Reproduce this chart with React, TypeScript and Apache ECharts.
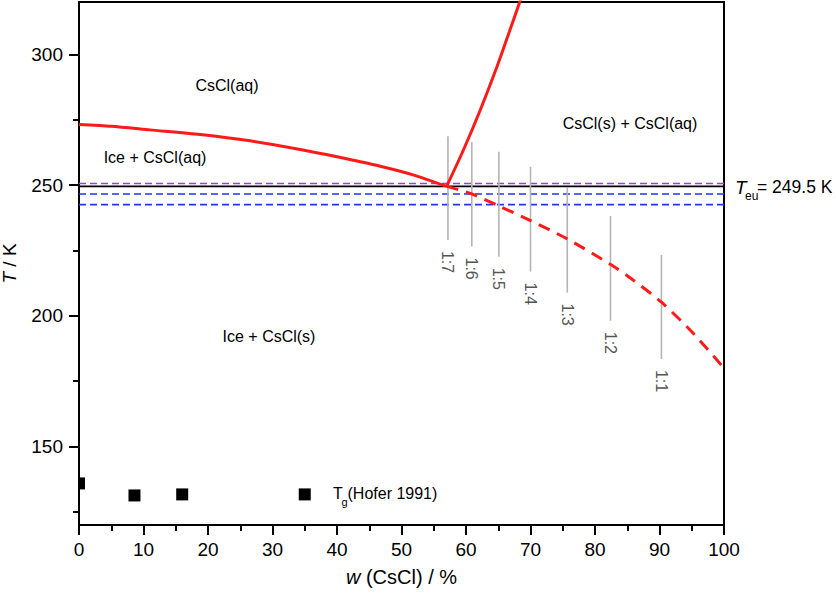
import React, { useEffect, useRef } from "react";
import * as echarts from "echarts";

// Ice liquidus of the CsCl–H2O system (w in %, T in K)
const iceW = [0, 5, 11, 18.8, 26.5, 34.3, 40, 46.7, 51.8, 57.0];
const iceT = [273.2, 272.5, 271.1, 269.3, 266.9, 263.6, 260.8, 257.2, 253.9, 249.5];

// CsCl solubility curve above the eutectic
const solW = [57.0, 59.6, 62.2, 64.8, 66.8, 68.3, 68.7];
const solT = [249.5, 263.4, 278.6, 295.2, 309.2, 319.8, 322.5];

// metastable continuation below the eutectic
const metaW = [57.0, 60.9, 65.1, 70.1, 75.7, 82.5, 85.9, 90.4, 95.0, 100];
const metaT = [249.5, 246.6, 242.0, 236.3, 229.4, 219.5, 213.7, 205.0, 193.9, 180.0];

// eutectic temperature and the reference temperatures around it
const T_EU = 249.5;
const purpleT = 250.6;
const blueT = [246.6, 242.5];

// CsCl : H2O molar ratios
const ratioLabels = ["1:7", "1:6", "1:5", "1:4", "1:3", "1:2", "1:1"];
const ratioW = [57.2, 60.9, 65.1, 70.0, 75.7, 82.4, 90.3];
const ratioTop = [268.7, 266.5, 262.7, 257.0, 249.1, 238.2, 223.3];
const ratioBottom = [229.0, 226.5, 222.6, 216.9, 208.9, 198.1, 183.5];

// glass transition temperatures (Hofer 1991)
const tgW = [0, 8.6, 16.0, 35.0];
const tgT = [135.9, 131.3, 131.7, 131.7];

// y axis ticks
const yMajor = [150, 200, 250, 300];
const yMinor = [125, 175, 225, 275];

const FONT = '"Liberation Sans", Arial, sans-serif';

const pairs = (xs: number[], ys: number[]) => xs.map((x, i) => [x, ys[i]]);
const hline = (t: number) => [[0, t], [100, t]];

function buildOption(): any {
  const red = "#ff1a1a";
  return {
    animation: false,
    grid: {
      left: 79,
      right: 112,
      top: 2,
      bottom: 75,
      outerBoundsMode: "none",
      containLabel: false,
      show: true,
      borderColor: "#000",
      borderWidth: 2,
      backgroundColor: "transparent",
    },
    xAxis: {
      type: "value",
      min: 0,
      max: 100,
      interval: 10,
      axisLine: { show: true, onZero: false, lineStyle: { color: "#000", width: 2 } },
      axisTick: { show: true, inside: false, length: 10, lineStyle: { color: "#000", width: 2 } },
      minorTick: { show: true, splitNumber: 2, length: 6, lineStyle: { color: "#000", width: 2 } },
      splitLine: { show: false },
      minorSplitLine: { show: false },
      axisLabel: { color: "#000", fontSize: 19, fontFamily: FONT, margin: 15 },
      name: "{i|w} (CsCl) / %",
      nameLocation: "middle",
      nameGap: 42,
      nameTextStyle: {
        color: "#000",
        fontSize: 20,
        fontFamily: FONT,
        rich: { i: { fontStyle: "italic", fontSize: 20, fontFamily: FONT, color: "#000" } },
      },
    },
    yAxis: [
      {
        type: "value",
        min: 120,
        max: 320,
        position: "left",
        axisLine: { show: true, onZero: false, lineStyle: { color: "#000", width: 2 } },
        axisTick: { show: true, inside: false, length: 10, customValues: yMajor, lineStyle: { color: "#000", width: 2 } },
        axisLabel: { color: "#000", fontSize: 19, fontFamily: FONT, margin: 16, customValues: yMajor },
        splitLine: { show: false },
        name: "{i|T} / K",
        nameLocation: "middle",
        nameGap: 60,
        nameTextStyle: {
          color: "#000",
          fontSize: 19,
          fontFamily: FONT,
          rich: { i: { fontStyle: "italic", fontSize: 19, fontFamily: FONT, color: "#000" } },
        },
      },
      {
        type: "value",
        min: 120,
        max: 320,
        position: "left",
        axisLine: { show: false },
        axisTick: { show: true, inside: false, length: 6, customValues: yMinor, lineStyle: { color: "#000", width: 2 } },
        axisLabel: { show: false },
        splitLine: { show: false },
      },
    ],
    series: [
      {
        type: "line",
        data: hline(purpleT),
        symbol: "none",
        lineStyle: { color: "#9a3cf0", width: 1.6, type: [7, 4] },
        z: 2,
      },
      ...blueT.map((t) => ({
        type: "line",
        data: hline(t),
        symbol: "none",
        lineStyle: { color: "#2236f0", width: 1.6, type: [7, 4] },
        z: 2,
      })),
      {
        type: "line",
        data: hline(T_EU),
        symbol: "none",
        lineStyle: { color: "#000", width: 1.6 },
        z: 2,
      },
      {
        type: "custom",
        data: ratioW.map((w, i) => [w, ratioTop[i], ratioBottom[i]]),
        encode: { x: 0, y: [1, 2] },
        z: 3,
        renderItem: (params: any, api: any) => {
          const top = api.coord([api.value(0), api.value(1)]);
          const bot = api.coord([api.value(0), api.value(2)]);
          return {
            type: "group",
            children: [
              {
                type: "line",
                shape: { x1: top[0], y1: top[1], x2: bot[0], y2: bot[1] },
                style: { stroke: "#b4b4b4", lineWidth: 1.6 },
              },
              {
                type: "text",
                x: bot[0],
                y: bot[1] + 11,
                rotation: -Math.PI / 2,
                style: {
                  text: ratioLabels[params.dataIndex],
                  fill: "#555",
                  fontSize: 16,
                  fontFamily: FONT,
                  align: "left",
                  verticalAlign: "middle",
                },
              },
            ],
          };
        },
      },
      {
        type: "line",
        data: pairs(iceW, iceT),
        symbol: "none",
        smooth: 0.25,
        lineStyle: { color: red, width: 3 },
        z: 4,
      },
      {
        type: "line",
        data: pairs(solW, solT),
        symbol: "none",
        smooth: 0.25,
        lineStyle: { color: red, width: 3 },
        z: 4,
      },
      {
        type: "line",
        data: pairs(metaW, metaT),
        symbol: "none",
        smooth: 0.25,
        lineStyle: { color: red, width: 3, type: [12, 8] },
        z: 4,
      },
      {
        type: "custom",
        data: pairs(tgW, tgT),
        z: 5,
        renderItem: (params: any, api: any) => {
          const p = api.coord([api.value(0), api.value(1)]);
          const s = 12;
          const cs = params.coordSys;
          const shape = echarts.graphic.clipRectByRect(
            { x: p[0] - s / 2, y: p[1] - s / 2, width: s, height: s },
            { x: cs.x, y: cs.y, width: cs.width, height: cs.height }
          );
          if (!shape) return null;
          return { type: "rect", shape, style: { fill: "#000" } };
        },
      },
    ],
    graphic: [
      { type: "text", x: 227, y: 85, style: { text: "CsCl(aq)", fontSize: 16, fontFamily: FONT, fill: "#000", align: "center", verticalAlign: "middle" } },
      { type: "text", x: 155, y: 157, style: { text: "Ice + CsCl(aq)", fontSize: 16, fontFamily: FONT, fill: "#000", align: "center", verticalAlign: "middle" } },
      { type: "text", x: 630, y: 123, style: { text: "CsCl(s) + CsCl(aq)", fontSize: 16, fontFamily: FONT, fill: "#000", align: "center", verticalAlign: "middle" } },
      { type: "text", x: 269, y: 336, style: { text: "Ice + CsCl(s)", fontSize: 16, fontFamily: FONT, fill: "#000", align: "center", verticalAlign: "middle" } },
      // T_g (Hofer 1991)
      { type: "text", x: 333, y: 493, style: { text: "T", fontSize: 16, fontFamily: FONT, fill: "#000", align: "left", verticalAlign: "middle" } },
      { type: "text", x: 341.5, y: 502, style: { text: "g", fontSize: 11, fontFamily: FONT, fill: "#000", align: "left", verticalAlign: "middle" } },
      { type: "text", x: 347.5, y: 493, style: { text: "(Hofer 1991)", fontSize: 16, fontFamily: FONT, fill: "#000", align: "left", verticalAlign: "middle" } },
      // T_eu = 249.5 K
      { type: "text", x: 735, y: 187, style: { text: "T", fontSize: 19, fontStyle: "italic", fontFamily: FONT, fill: "#000", align: "left", verticalAlign: "middle" } },
      { type: "text", x: 745, y: 196, style: { text: "eu", fontSize: 12, fontFamily: FONT, fill: "#000", align: "left", verticalAlign: "middle" } },
      { type: "text", x: 757, y: 187, style: { text: "= 249.5 K", fontSize: 17.5, fontFamily: FONT, fill: "#000", align: "left", verticalAlign: "middle" } },
    ],
  };
}

export default function App() {
  const ref = useRef<HTMLDivElement>(null);
  useEffect(() => {
    if (!ref.current) return;
    const chart = echarts.init(ref.current, null, { renderer: "svg" });
    chart.setOption(buildOption());
    return () => chart.dispose();
  }, []);
  return (
    <div
      ref={ref}
      style={{ position: "fixed", left: 0, top: 0, width: 836, height: 600, background: "#fff" }}
    />
  );
}
